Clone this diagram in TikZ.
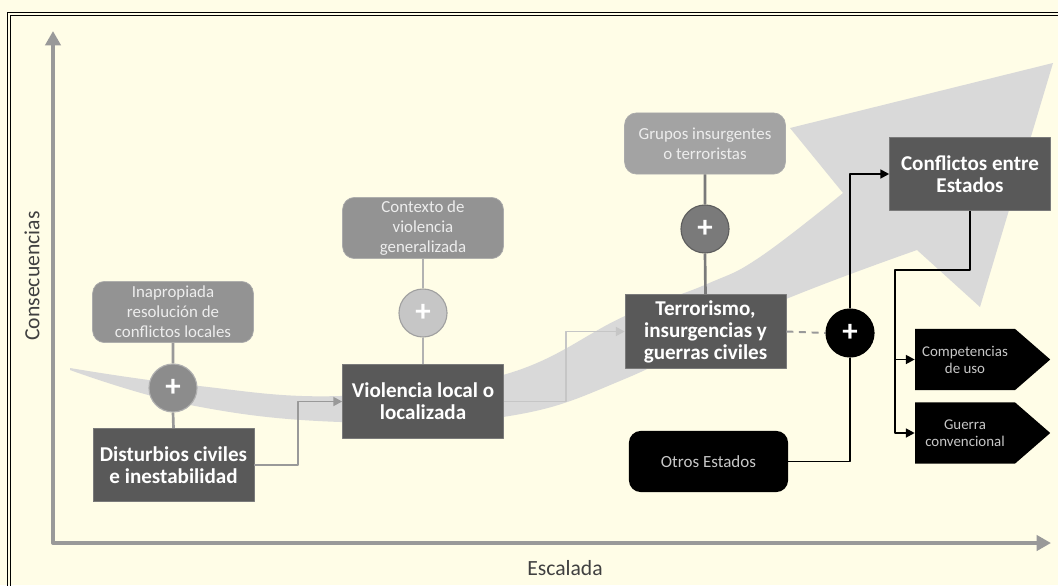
\documentclass[tikz,border=0pt]{standalone}
\usepackage{fontspec}
\setmainfont{Carlito}
\usetikzlibrary{arrows.meta,shapes.symbols,positioning}

\definecolor{bgcream}{HTML}{FFFDE7}
\definecolor{swoosh}{HTML}{D9D9D9}
\definecolor{axisgray}{HTML}{999999}
\definecolor{labelgray}{HTML}{404040}
\definecolor{causefill}{HTML}{939393}
\definecolor{causeline}{HTML}{ABABAB}
\definecolor{causetext}{HTML}{EDEDED}
\definecolor{stagefill}{HTML}{595959}
\definecolor{stageline}{HTML}{7A7A7A}
\definecolor{plusAfill}{HTML}{8C8C8C}
\definecolor{plusAline}{HTML}{B0B0B0}
\definecolor{plusBfill}{HTML}{C6C6C6}
\definecolor{plusBline}{HTML}{A0A0A0}
\definecolor{plusCfill}{HTML}{7A7A7A}
\definecolor{plusCline}{HTML}{5E5E5E}
\definecolor{outtext}{HTML}{C8C8C8}

\tikzset{
  axisline/.style={axisgray, line width=2.8pt},
  axislabel/.style={text=labelgray, font=\fontsize{15.4}{18}\selectfont},
  stage/.style={rectangle, fill=stagefill, draw=stageline, line width=0.5pt,
    text=white, font=\bfseries\fontsize{15}{15.6}\selectfont, align=center,
    minimum width=4.02cm, minimum height=1.84cm, inner sep=1pt},
  cause/.style={rectangle, rounded corners=0.3cm, fill=causefill, draw=causeline,
    line width=0.5pt, text=causetext, font=\fontsize{12}{14.2}\selectfont,
    align=center, minimum width=4.02cm, minimum height=1.53cm, inner xsep=2pt, inner ysep=0.5pt},
  plus/.style={circle, minimum size=1.2cm, inner sep=0pt, line width=0.8pt,
    text=white, font=\bfseries\fontsize{22}{22}\selectfont},
  actor/.style={rectangle, rounded corners=0.3cm, fill=black, text=outtext,
    font=\fontsize{12.1}{14}\selectfont, minimum width=3.98cm, minimum height=1.53cm},
  outcome/.style={signal, signal to=east, signal pointer angle=82, fill=black,
    text=outtext, font=\fontsize{10.6}{12}\selectfont, align=center,
    minimum width=3.38cm, minimum height=1.53cm, inner sep=1pt},
  link/.style={line width=1.9pt},
  flow/.style={line width=1.4pt, ->},
}

\begin{document}
\begin{tikzpicture}[x=0.025cm, y=-0.025cm, line join=round,
    >={Triangle[length=0.22cm,width=0.22cm]}]
    \useasboundingbox (0,0) rectangle (1058,585);
    \fill[bgcream] (0,0) rectangle (1058,585);
    % frame
    \draw[line width=0.9pt] (7.8,590) -- (7.8,12.6) -- (1065,12.6);
    \draw[line width=0.45pt] (10,590) -- (10,15) -- (1065,15);
    % escalation swoosh
    \fill[swoosh] plot[smooth, tension=0.7] coordinates {(70,368) (190,385) (340,396) (503,375) (625,316) (707,284) (760,257) (843,193)}
      -- (790,128) -- (1053,63) -- (980,307)
      -- plot[smooth, tension=0.7] coordinates {(917,250) (760,310) (627,378) (503,417) (340,422) (190,405) (70,370)} -- cycle;
    % axes
    \draw[axisline, {Triangle[length=0.36cm,width=0.38cm]}-{Triangle[length=0.36cm,width=0.38cm]}]
      (53,31) -- (53,543) -- (1051,543);
    \node[axislabel, rotate=90] (ylab) at (32,276) {Consecuencias};
    \node[axislabel] (xlab) at (565,568) {Escalada};

    % stages
    \node[cause] (inap) at (173,312) {Inapropiada\\ resolución de\\ conflictos locales};
    \node[plus, fill=plusAfill, draw=plusAline] (plusA) at (173,388) {+};
    \node[stage] (dist) at (173.5,465) {Disturbios civiles\\ e inestabilidad};

    \node[cause] (ctx) at (423,228) {Contexto de\\ violencia\\ generalizada};
    \node[plus, fill=plusBfill, draw=plusBline] (plusB) at (423,313) {+};
    \node[stage] (viol) at (423,401.5) {Violencia local o\\ localizada};

    \node[cause, fill=causefill!85!white] (grp) at (705,143.5) {Grupos insurgentes\\ o terroristas};
    \node[plus, fill=plusCfill, draw=plusCline] (plusC) at (705,229) {+};
    \node[stage] (terr) at (705.5,331.5) {Terrorismo,\\ insurgencias y\\ guerras civiles};

    \node[plus, fill=black, draw=black] (plusD) at (850,333) {+};
    \node[actor] (otros) at (708.5,461.5) {Otros Estados};
    \node[stage] (confl) at (970,174) {Conflictos entre\\ Estados};
    \node[outcome] (comp) at (965,359.5) {Competencias\\ de uso};
    \node[outcome] (guer) at (965,433) {Guerra\\ convencional};
    \coordinate (split) at (895,270);

    % connectors
    \draw[link, axisgray] (inap.south) -- (plusA.north) (plusA.south) -- (dist.north);
    \draw[link, plusBfill!90!black] (ctx.south) -- (plusB.north) (plusB.south) -- (viol.north);
    \draw[link, plusCfill] (grp.south) -- (plusC.north) (plusC.south) -- (terr.north);
    \draw[flow, axisgray] (dist.east) -- ++(44,0) |- (viol.west);
    \draw[flow, plusBfill] (viol.east) -- ++(62,0) |- (terr.west);
    \draw[line width=1.4pt, axisgray, dash pattern=on 5pt off 4pt] (terr.east) -- (plusD.west);
    \draw[line width=1.4pt] (otros.east) -| (plusD.south);
    \draw[flow] (plusD.north) |- (confl.west);
    \draw[flow] (confl.south) |- (split) |- (comp.west);
    \draw[flow] (split) |- (guer.west);
\end{tikzpicture}
\end{document}
